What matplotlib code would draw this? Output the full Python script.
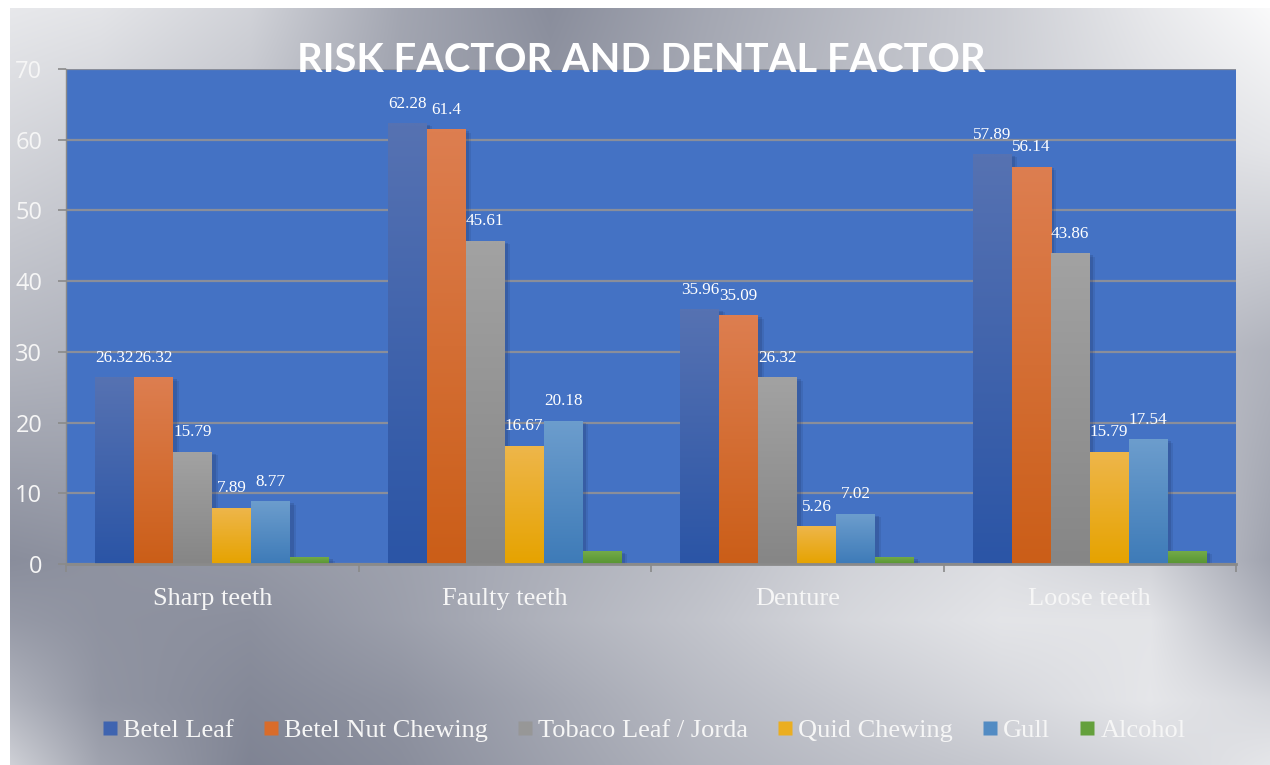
import numpy as np
import matplotlib
matplotlib.use('Agg')
import matplotlib.pyplot as plt
from matplotlib.lines import Line2D
import matplotlib.patheffects as pe

# ---------------- data ----------------
categories = ['Sharp teeth', 'Faulty teeth', 'Denture', 'Loose teeth']
series_names = ['Betel Leaf', 'Betel Nut Chewing', 'Tobaco Leaf / Jorda',
                'Quid Chewing', 'Gull', 'Alcohol']
betel_leaf = [26.32, 62.28, 35.96, 57.89]
betel_nut = [26.32, 61.4, 35.09, 56.14]
tobacco_leaf = [15.79, 45.61, 26.32, 43.86]
quid_chewing = [7.89, 16.67, 5.26, 15.79]
gull = [8.77, 20.18, 7.02, 17.54]
alcohol = [0.88, 1.75, 0.88, 1.75]
series_values = [betel_leaf, betel_nut, tobacco_leaf, quid_chewing, gull, alcohol]
show_labels = [True, True, True, True, True, False]
y_ticks = [0, 10, 20, 30, 40, 50, 60, 70]
title = 'RISK FACTOR AND DENTAL FACTOR'

# ---------------- style ----------------
top_colors = ['#5672B2', '#DD7E50', '#A2A2A2', '#EEB64A', '#6C9DCD', '#72AA48']
bot_colors = ['#2B55A6', '#CB5E18', '#868686', '#E6A300', '#3E7BB8', '#589532']
mid_colors = ['#3F64B0', '#D96C2A', '#979797', '#EBAE20', '#528BC3', '#64A03C']

W, H = 1270, 765
fig = plt.figure(figsize=(W / 100, H / 100), dpi=100, facecolor='white')

# metallic background gradient (grid of gray levels, bilinear interpolation)
gx = [10, 100, 250, 400, 550, 700, 850, 1000, 1150, 1270]
gy = [8, 150, 350, 560, 620, 700, 765]
gv = np.array([
    [232, 228, 210, 165, 140, 165, 185, 205, 232, 250],
    [212, 205, 190, 160, 150, 170, 190, 205, 220, 228],
    [182, 178, 170, 155, 160, 175, 190, 200, 195, 178],
    [140, 145, 150, 160, 175, 190, 210, 222, 210, 162],
    [152, 145, 142, 158, 178, 195, 215, 228, 228, 178],
    [178, 148, 135, 145, 165, 185, 200, 215, 230, 215],
    [208, 162, 130, 140, 160, 178, 190, 200, 215, 230],
], dtype=float)
xs = np.arange(W)
ys = np.arange(H)
rows = np.array([np.interp(xs, gx, r) for r in gv])
g = np.array([np.interp(ys, gy, rows[:, i]) for i in range(W)]).T
img = np.zeros((H, W, 3))
img[..., 0] = g - 0.02 * (255 - g)
img[..., 1] = g + 0.015 * (255 - g)
img[..., 2] = g + 0.14 * (255 - g)
img = np.clip(img / 255.0, 0, 1)
img[:8, :, :] = 1.0
img[:, :10, :] = 1.0
bg = fig.add_axes([0, 0, 1, 1], zorder=-10)
bg.imshow(img, extent=[0, W, H, 0], aspect='auto', interpolation='bilinear')
bg.set_axis_off()

# main axes
ax = fig.add_axes([66 / W, 1 - 564 / H, (1236 - 66) / W, (564 - 69) / H])
ax.set_facecolor('#4472C4')

n = len(series_values)
bw = 0.8 / n
x = np.arange(len(categories))

shadow = [pe.SimplePatchShadow(offset=(4, -2), shadow_rgbFace='#1a2a55', alpha=0.12),
          pe.SimplePatchShadow(offset=(2.5, -1), shadow_rgbFace='#1a2a55', alpha=0.18),
          pe.Normal()]

for i, vals in enumerate(series_values):
    bars = ax.bar(x + (i - (n - 1) / 2) * bw, vals, width=bw, color=mid_colors[i],
                  zorder=3, linewidth=0, path_effects=shadow)
    grad = np.linspace(0, 1, 64)[:, None]
    c0 = np.array(matplotlib.colors.to_rgb(top_colors[i]))
    c1 = np.array(matplotlib.colors.to_rgb(bot_colors[i]))
    gimg = c0[None, None, :] * (1 - grad[..., None]) + c1[None, None, :] * grad[..., None]
    for b, v in zip(bars, vals):
        x0 = b.get_x()
        ax.imshow(gimg, extent=[x0, x0 + b.get_width(), 0, b.get_height()],
                  origin='upper', aspect='auto', zorder=3.5, interpolation='bilinear')
        if show_labels[i]:
            ax.annotate(str(v), xy=(x0 + b.get_width() / 2, v), xytext=(0, 11.5),
                        textcoords='offset points', ha='center', va='baseline',
                        family='Liberation Serif', fontsize=12.3, color='white', zorder=6)

ax.set_xlim(-0.5, len(categories) - 0.5)
ax.set_ylim(0, 70)
ax.set_yticks(y_ticks)
ax.grid(axis='y', color='#8a8e9a', linewidth=1.6, zorder=1)
ax.set_axisbelow(True)

ax.set_xticks(x)
ax.set_xticklabels(categories, family='Liberation Serif', fontsize=19, color='#f6f6f6')
ax.set_xticks(np.arange(-0.5, len(categories)), minor=True)
ax.tick_params(axis='x', which='major', length=0, pad=17)
ax.tick_params(axis='x', which='minor', length=6, width=1.2, color='#8a8a8a')
ax.tick_params(axis='y', length=6, width=1.2, color='#8a8a8a', pad=11,
               labelsize=17, labelcolor='#f6f6f6')
for lab in ax.get_yticklabels():
    lab.set_family('Open Sans')

for s in ['top', 'right']:
    ax.spines[s].set_visible(False)
ax.spines['bottom'].set_color('#8a8a8a')
ax.spines['bottom'].set_linewidth(2)
ax.spines['bottom'].set_zorder(4)
ax.spines['left'].set_color('#8a8a8a')
ax.spines['left'].set_linewidth(1)

fig.text(0.505, 1 - 60 / H, title, ha='center', va='center', family='Lato',
         fontweight='bold', fontsize=28.7, color='white', zorder=20)

handles = [Line2D([], [], marker='s', linestyle='none', markersize=10,
                  markerfacecolor=c, markeredgecolor='none') for c in mid_colors]
leg = fig.legend(handles, series_names, loc='center', bbox_to_anchor=(0.507, 1 - 730 / H),
                 ncol=6, frameon=False, handlelength=0.6, handletextpad=0.2,
                 columnspacing=1.1, prop={'family': 'Liberation Serif', 'size': 19})
for t in leg.get_texts():
    t.set_color('#f6f6f6')

fig.savefig('out.png', dpi=100, facecolor='white')
